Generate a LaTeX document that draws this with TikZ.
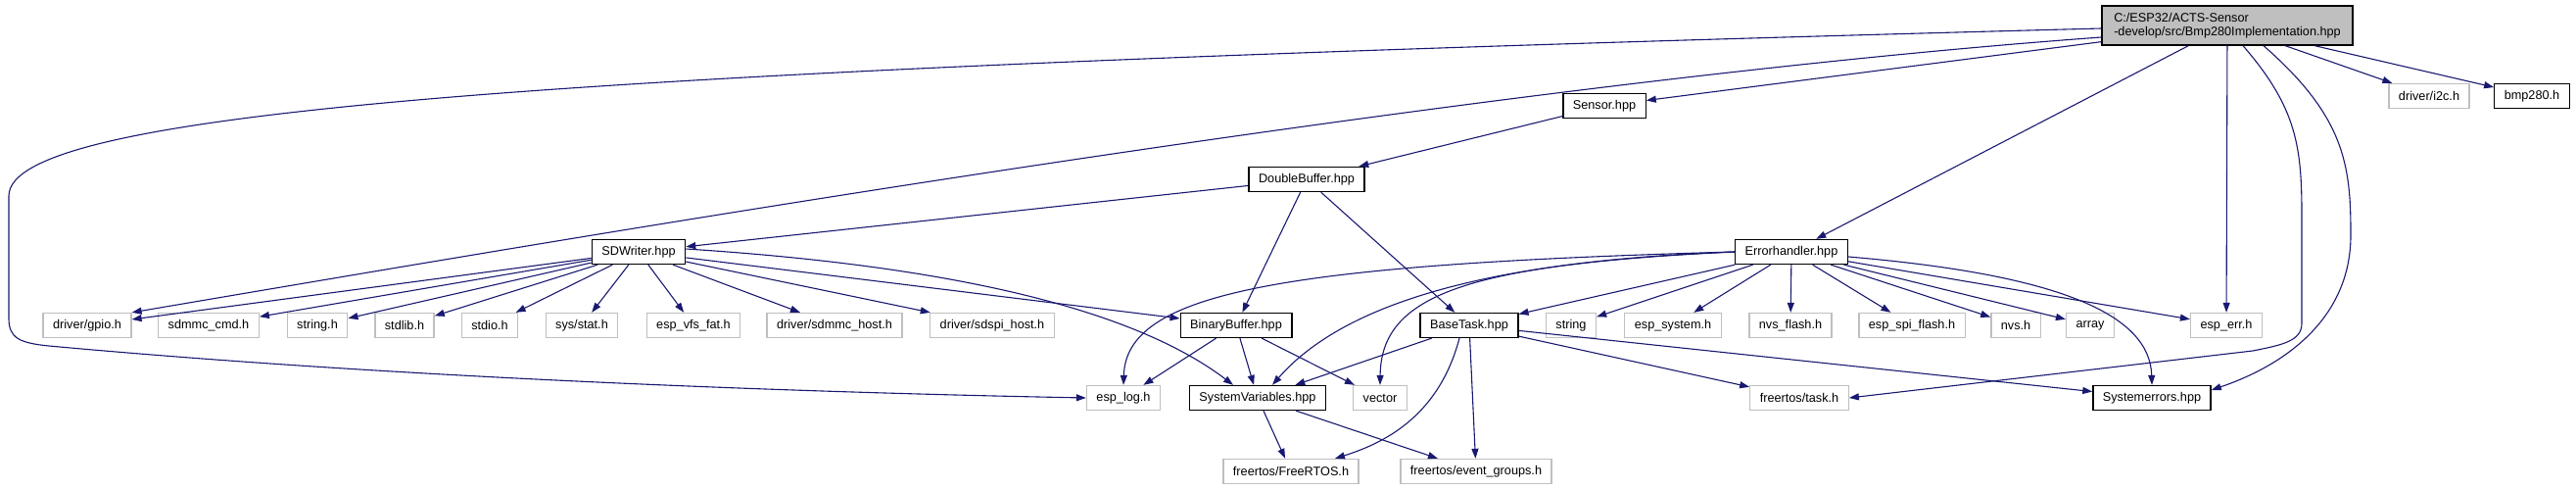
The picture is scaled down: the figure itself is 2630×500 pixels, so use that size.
\documentclass[tikz,border=0pt]{standalone}
\usepackage{fontspec}
\setmainfont{Liberation Sans}
\usetikzlibrary{arrows.meta}
\definecolor{edge}{HTML}{191970}
\definecolor{extline}{HTML}{BFBFBF}
\definecolor{curfill}{HTML}{BFBFBF}

\begin{document}
\begin{tikzpicture}[
  x=1pt,y=-1pt,
  font=\fontsize{12.7}{14.5}\selectfont,
  file/.style={draw=#1,line width=1.3pt,fill=white,minimum height=25pt,inner xsep=10pt,inner ysep=2pt},
  doc/.style={file=black},
  ext/.style={file=extline},
  cur/.style={draw=black,line width=1.3pt,fill=curfill,align=left,minimum width=256pt,minimum height=40pt},
  dep/.style={-{Triangle[length=10pt,width=7pt]},line width=1.1pt,edge},
]
  \useasboundingbox (0,0) rectangle (2630,500);

  \node[cur] (main) at (2274,26) {C:/ESP32/ACTS-Sensor\\-develop/src/Bmp280Implementation.hpp};
  \node[doc] (sensor) at (1638,108) {Sensor.hpp};
  \node[ext] (i2c) at (2480,98) {driver/i2c.h};
  \node[doc] (bmp) at (2585,98) {bmp280.h};
  \node[doc] (dbuf) at (1334,183) {DoubleBuffer.hpp};
  \node[doc] (sdw) at (652,257) {SDWriter.hpp};
  \node[doc] (errh) at (1829,257) {Errorhandler.hpp};

  \node[ext] (gpio) at (89,332) {driver/gpio.h};
  \node[ext] (sdmmccmd) at (213,332) {sdmmc\_cmd.h};
  \node[ext] (stringh) at (324,332) {string.h};
  \node[ext] (stdlibh) at (413,332) {stdlib.h};
  \node[ext] (stdioh) at (500,332) {stdio.h};
  \node[ext] (sysstat) at (594,332) {sys/stat.h};
  \node[ext] (vfsfat) at (708,332) {esp\_vfs\_fat.h};
  \node[ext] (sdmmchost) at (852,332) {driver/sdmmc\_host.h};
  \node[ext] (sdspihost) at (1013,332) {driver/sdspi\_host.h};
  \node[doc] (binbuf) at (1262,332) {BinaryBuffer.hpp};
  \node[doc] (basetask) at (1500,332) {BaseTask.hpp};
  \node[ext] (stringx) at (1604,332) {string};
  \node[ext] (espsys) at (1708,332) {esp\_system.h};
  \node[ext] (nvsflash) at (1828,332) {nvs\_flash.h};
  \node[ext] (spiflash) at (1952,332) {esp\_spi\_flash.h};
  \node[ext] (nvsh) at (2058,332) {nvs.h};
  \node[ext] (arrayh) at (2134,332) {array};
  \node[ext] (esperr) at (2273,332) {esp\_err.h};

  \node[ext] (eslog) at (1147,406) {esp\_log.h};
  \node[doc] (sysvar) at (1284,406) {SystemVariables.hpp};
  \node[ext] (vector) at (1409,406) {vector};
  \node[ext] (task) at (1837,406) {freertos/task.h};
  \node[doc] (syserr) at (2197,406) {Systemerrors.hpp};

  \node[ext] (freertos) at (1318,481) {freertos/FreeRTOS.h};
  \node[ext] (evgroups) at (1507,481) {freertos/event\_groups.h};

  \draw[dep] ([yshift=-3pt]main.west) .. controls (600,70) and (9,110) .. (9,200) -- (9,325)
    .. controls (9,345) and (20,350) .. (50,353) .. controls (400,385) and (800,400) .. (eslog.west);
  \draw[dep] ([yshift=-12pt]main.west) .. controls (1500,85) and (600,240) .. (gpio.north east);
  \draw[dep] ([yshift=4pt]main.south west) -- (sensor);
  \draw[dep] (main) -- (errh);
  \draw[dep] (main) -- (esperr);
  \draw[dep] ([xshift=16pt]main.south) .. controls (2345,110) and (2350,150) .. (2350,220) -- (2350,330)
    .. controls (2350,348) and (2330,352) .. (2300,358) -- (task.east);
  \draw[dep] ([xshift=37pt]main.south) .. controls (2395,120) and (2400,170) .. (2400,240)
    .. controls (2400,320) and (2340,370) .. ([yshift=8pt]syserr.east);
  \draw[dep] (main) -- (i2c);
  \draw[dep] (main) -- (bmp);

  \draw[dep] (sensor) -- (dbuf);
  \draw[dep] (dbuf) -- (sdw);
  \draw[dep] (dbuf) -- (binbuf);
  \draw[dep] (dbuf) -- (basetask);

  \draw[dep] (sdw) -- (gpio);
  \draw[dep] (sdw) -- (sdmmccmd);
  \draw[dep] (sdw) -- (stringh);
  \draw[dep] (sdw) -- (stdlibh);
  \draw[dep] (sdw) -- (stdioh);
  \draw[dep] (sdw) -- (sysstat);
  \draw[dep] (sdw) -- (vfsfat);
  \draw[dep] (sdw) -- (sdmmchost);
  \draw[dep] (sdw) -- (sdspihost);
  \draw[dep] (sdw) -- (binbuf);
  \draw[dep] ([yshift=3pt]sdw.east) .. controls (950,270) and (1150,310) .. ([xshift=-25pt]sysvar.north);

  \draw[dep] (errh.west) .. controls (1300,270) and (1150,300) .. (eslog.north);
  \draw[dep] (errh.west) .. controls (1550,265) and (1380,300) .. ([xshift=15pt]sysvar.north);
  \draw[dep] (errh.west) .. controls (1500,270) and (1410,300) .. (vector.north);
  \draw[dep] (errh) -- (basetask);
  \draw[dep] (errh) -- (stringx);
  \draw[dep] (errh) -- (espsys);
  \draw[dep] (errh) -- (nvsflash);
  \draw[dep] (errh) -- (spiflash);
  \draw[dep] (errh) -- (nvsh);
  \draw[dep] (errh) -- (arrayh);
  \draw[dep] (errh) -- (esperr);
  \draw[dep] ([yshift=-5pt]errh.east) .. controls (2100,280) and (2195,320) .. (syserr.north);

  \draw[dep] (basetask) -- (sysvar);
  \draw[dep] ([xshift=-10pt]basetask.south) .. controls (1470,420) and (1420,450) .. ([xshift=45pt]freertos.north);
  \draw[dep] (basetask) -- (evgroups);
  \draw[dep] (basetask) -- (task);
  \draw[dep] (basetask) -- (syserr);

  \draw[dep] (binbuf) -- (eslog);
  \draw[dep] (binbuf) -- (sysvar);
  \draw[dep] (binbuf) -- (vector);

  \draw[dep] (sysvar) -- (freertos);
  \draw[dep] (sysvar) -- (evgroups);
\end{tikzpicture}
\end{document}
